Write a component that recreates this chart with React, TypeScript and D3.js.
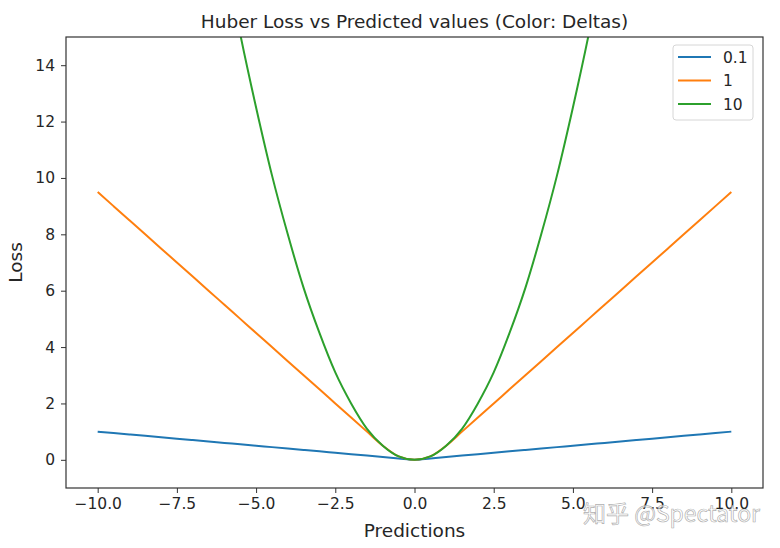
import React, { useEffect, useRef } from 'react'
import * as d3 from 'd3'

// predictions (x) sampled every 0.5
const predictions = [
  -10, -9.5, -9, -8.5, -8, -7.5, -7, -6.5, -6, -5.5, -5, -4.5, -4, -3.5, -3, -2.5, -2, -1.5, -1, -0.5,
  0, 0.5, 1, 1.5, 2, 2.5, 3, 3.5, 4, 4.5, 5, 5.5, 6, 6.5, 7, 7.5, 8, 8.5, 9, 9.5, 10,
]

const lossDelta01 = [
  1.0, 0.95, 0.9, 0.85, 0.8, 0.75, 0.7, 0.65, 0.6, 0.55, 0.5, 0.45, 0.4, 0.35, 0.3, 0.25, 0.2, 0.15, 0.1, 0.05,
  0, 0.05, 0.1, 0.15, 0.2, 0.25, 0.3, 0.35, 0.4, 0.45, 0.5, 0.55, 0.6, 0.65, 0.7, 0.75, 0.8, 0.85, 0.9, 0.95, 1.0,
]

const lossDelta1 = [
  9.5, 9, 8.5, 8, 7.5, 7, 6.5, 6, 5.5, 5, 4.5, 4, 3.5, 3, 2.5, 2, 1.5, 1, 0.5, 0.12,
  0, 0.12, 0.5, 1, 1.5, 2, 2.5, 3, 3.5, 4, 4.5, 5, 5.5, 6, 6.5, 7, 7.5, 8, 8.5, 9, 9.5,
]

const lossDelta10 = [
  50, 45.1, 40.5, 36.1, 32, 28.1, 24.5, 21.1, 18, 15.1, 12.5, 10.1, 8, 6.1, 4.5, 3.1, 2, 1.1, 0.5, 0.12,
  0, 0.12, 0.5, 1.1, 2, 3.1, 4.5, 6.1, 8, 10.1, 12.5, 15.1, 18, 21.1, 24.5, 28.1, 32, 36.1, 40.5, 45.1, 50,
]

const seriesNames = ['0.1', '1', '10']
const seriesColors = ['#1f77b4', '#ff7f0e', '#2ca02c']
const xTicks = [-10, -7.5, -5, -2.5, 0, 2.5, 5, 7.5, 10]
const yTicks = [0, 2, 4, 6, 8, 10, 12, 14]

const font = '"DejaVu Sans", sans-serif'

export default function App() {
  const svgRef = useRef<SVGSVGElement>(null)

  useEffect(() => {
    if (!svgRef.current) return
    const root = d3.select(svgRef.current)
    root.selectAll('*').remove()

    const margin = { top: 37, right: 17, bottom: 60, left: 66 }
    const width = 780 - margin.left - margin.right
    const height = 548 - margin.top - margin.bottom

    const x = d3.scaleLinear().domain([-11, 11]).range([0, width])
    const y = d3.scaleLinear().domain([-1, 15]).range([height, 0])

    root.append('rect').attr('width', 780).attr('height', 548).attr('fill', 'white')

    const g = root.append('g').attr('transform', `translate(${margin.left},${margin.top})`)

    g.append('defs')
      .append('clipPath')
      .attr('id', 'plot-clip')
      .append('rect')
      .attr('width', width)
      .attr('height', height)

    const line = d3
      .line<number>()
      .x((_, i) => x(predictions[i]))
      .y((d) => y(d))
      .curve(d3.curveMonotoneX)

    const allSeries = [lossDelta01, lossDelta1, lossDelta10]
    const plot = g.append('g').attr('clip-path', 'url(#plot-clip)')
    allSeries.forEach((s, i) => {
      plot
        .append('path')
        .datum(s)
        .attr('fill', 'none')
        .attr('stroke', seriesColors[i])
        .attr('stroke-width', 2)
        .attr('d', line)
    })

    // axes
    const xAxis = g
      .append('g')
      .attr('transform', `translate(0,${height})`)
      .call(
        d3
          .axisBottom(x)
          .tickValues(xTicks)
          .tickFormat((d) => d3.format('.1f')(+d).replace('-', '\u2212'))
          .tickSize(5)
          .tickPadding(5),
      )
    xAxis.select('.domain').remove()
    xAxis.selectAll('text').style('font-family', font).style('font-size', '15.5px').style('fill', '#262626')
    xAxis.selectAll('line').attr('stroke', '#333')

    const yAxis = g.append('g').call(
      d3
        .axisLeft(y)
        .tickValues(yTicks)
        .tickFormat((d) => String(d))
        .tickSize(5)
        .tickPadding(6),
    )
    yAxis.select('.domain').remove()
    yAxis.selectAll('text').style('font-family', font).style('font-size', '15.5px').style('fill', '#262626')
    yAxis.selectAll('line').attr('stroke', '#333')

    g.append('rect')
      .attr('width', width)
      .attr('height', height)
      .attr('fill', 'none')
      .attr('stroke', '#333')
      .attr('stroke-width', 1.2)

    // title and labels
    root
      .append('text')
      .attr('x', margin.left + width / 2)
      .attr('y', 28)
      .attr('text-anchor', 'middle')
      .style('font-family', font)
      .style('font-size', '18.5px')
      .style('fill', '#262626')
      .text('Huber Loss vs Predicted values (Color: Deltas)')

    root
      .append('text')
      .attr('x', margin.left + width / 2)
      .attr('y', 537)
      .attr('text-anchor', 'middle')
      .style('font-family', font)
      .style('font-size', '18.5px')
      .style('fill', '#262626')
      .text('Predictions')

    root
      .append('text')
      .attr('transform', `translate(22,${margin.top + height / 2}) rotate(-90)`)
      .attr('text-anchor', 'middle')
      .style('font-family', font)
      .style('font-size', '18.5px')
      .style('fill', '#262626')
      .text('Loss')

    // legend
    const legend = root.append('g').attr('transform', 'translate(673,45)')
    legend
      .append('rect')
      .attr('width', 80)
      .attr('height', 75)
      .attr('rx', 3)
      .attr('fill', 'white')
      .attr('fill-opacity', 0.8)
      .attr('stroke', '#d6d6d6')
    seriesNames.forEach((name, i) => {
      const row = legend.append('g').attr('transform', `translate(0,${12 + i * 23.5})`)
      row
        .append('line')
        .attr('x1', 5)
        .attr('x2', 38)
        .attr('stroke', seriesColors[i])
        .attr('stroke-width', 2)
      row
        .append('text')
        .attr('x', 50)
        .attr('y', 5.5)
        .style('font-family', font)
        .style('font-size', '15.5px')
        .style('fill', '#262626')
        .text(name)
    })

    // watermark
    root
      .append('text')
      .attr('x', 760)
      .attr('y', 522)
      .attr('text-anchor', 'end')
      .style('font-family', '"Noto Sans CJK SC", "Noto Sans", sans-serif')
      .style('font-size', '23px')
      .style('fill', '#ffffff')
      .style('fill-opacity', 0.6)
      .style('stroke', '#9a9a9a')
      .style('stroke-width', 0.7)
      .style('stroke-opacity', 0.8)
      .text('知乎 @Spectator')
  }, [])

  return (
    <div style={{ position: 'absolute', left: 0, top: 0 }}>
      <svg ref={svgRef} width={780} height={548} style={{ display: 'block' }} />
    </div>
  )
}
